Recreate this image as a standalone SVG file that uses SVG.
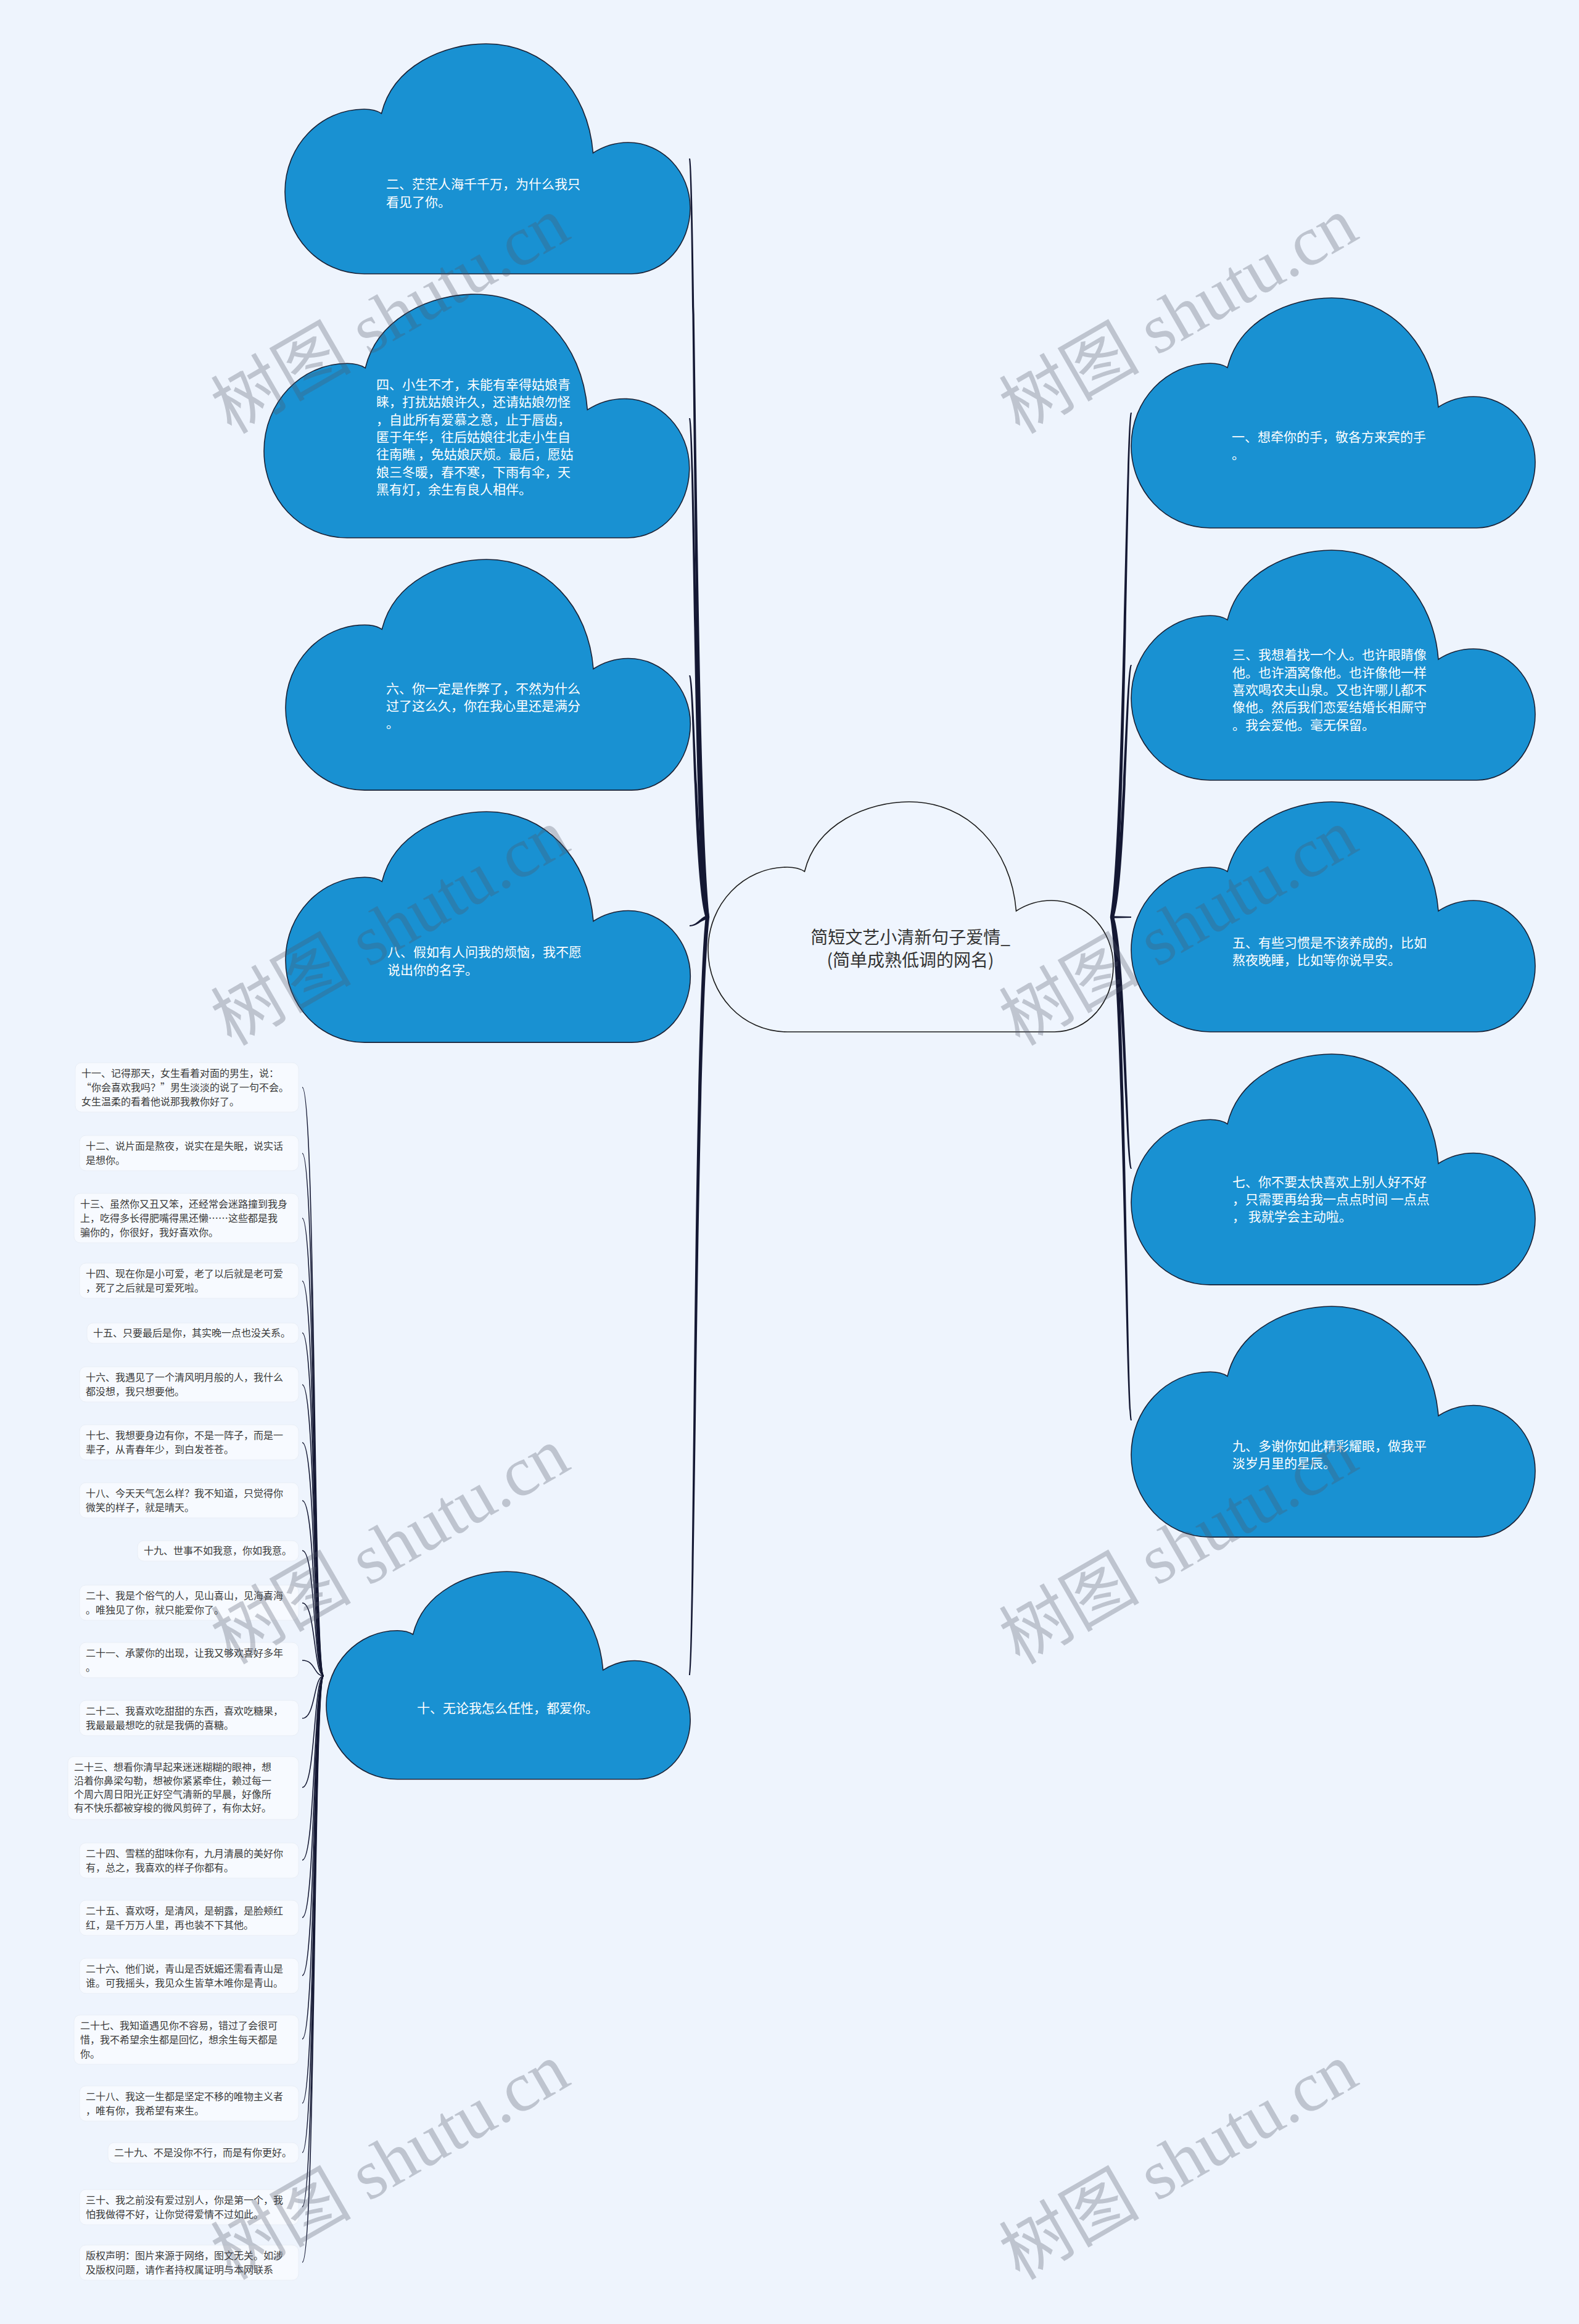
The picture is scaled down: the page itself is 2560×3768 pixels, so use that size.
<svg xmlns="http://www.w3.org/2000/svg" xmlns:xlink="http://www.w3.org/1999/xlink" width="2560" height="3768" viewBox="0 0 2560 3768">
<style>
.bg{fill:#eef4fd}
.cloud{fill:#1991d2;stroke:#1b2236;stroke-width:1.6}
.center{fill:#eff5fe;stroke:#1b1b1b;stroke-width:1.6}
.ct{font-family:"Noto Sans CJK SC","Noto Sans",sans-serif;font-size:21px;fill:#ffffff}
.mt{font-family:"Noto Sans CJK SC","Noto Sans",sans-serif;font-size:28px;fill:#333333;text-anchor:middle}
.st{font-family:"Noto Sans CJK SC","Noto Sans",sans-serif;font-size:16px;fill:#3a3a3a}
.box{fill:#f7faff;stroke:#e9eef6;stroke-width:1}
.conn{fill:#141833;stroke:none}
.sconn{fill:none;stroke:#141833;stroke-width:1.6}
.wm{font-family:"Liberation Serif","Noto Sans CJK SC",serif;font-size:114px;fill:#4f5766;fill-opacity:0.3;text-anchor:middle}
</style>
<defs>
<path id="cloudShape" vector-effect="non-scaling-stroke" d="M128,373 C55,373 0,312 0,240 C0,166 57,106 128,106 C140,106 150,109 156,113 C175,35 258,0 325,0 C420,0 490,75 498,177 C515,166 535,160 555,160 C610,160 655,208 655,266 C655,325 613,373 560,373 Z"/>
</defs>
<rect class="bg" x="0" y="0" width="2560" height="3768"/>

<g id="connectors">
<path class="conn" d="M1143.8,1487 C1124.4,1298 1124.4,300 1117,257 L1119,257 C1127.6,300 1129.6,1298 1150.2,1487 Z"/>
<path class="conn" d="M1143.8,1487 C1124.4,1365 1124.4,706 1117,678 L1119,678 C1127.6,706 1129.6,1365 1150.2,1487 Z"/>
<path class="conn" d="M1143.8,1487 C1124.4,1424 1124.4,1109 1117,1095 L1119,1095 C1127.6,1109 1129.6,1424 1150.2,1487 Z"/>
<path class="conn" d="M1147,1484 C1135,1487 1130,1500 1118,1500 L1118,1502 C1130,1502 1135,1493 1147,1490 Z"/>
<path class="conn" d="M1143.8,1487 C1124.4,1671 1124.4,2673 1117,2716 L1119,2716 C1127.6,2673 1129.6,1671 1150.2,1487 Z"/>
<path class="conn" d="M1799.8,1487 C1820.4,1364 1824.4,698 1833,669 L1835,669 C1827.6,698 1825.6,1364 1806.2,1487 Z"/>
<path class="conn" d="M1799.8,1487 C1820.4,1426 1824.4,1092 1833,1078 L1835,1078 C1827.6,1092 1825.6,1426 1806.2,1487 Z"/>
<path class="conn" d="M1803,1485.2 L1834,1486 L1834,1488 L1803,1488.8 Z"/>
<path class="conn" d="M1799.8,1487 C1820.4,1548 1824.4,1881 1833,1895 L1835,1895 C1827.6,1881 1825.6,1548 1806.2,1487 Z"/>
<path class="conn" d="M1799.8,1487 C1820.4,1609 1824.4,2274 1833,2303 L1835,2303 C1827.6,2274 1825.6,1609 1806.2,1487 Z"/>
<path class="sconn" d="M525,2717 C508,2717 512,1763 490,1763"/>
<path class="sconn" d="M525,2717 C508,2717 512,1870 490,1870"/>
<path class="sconn" d="M525,2717 C508,2717 512,1975 490,1975"/>
<path class="sconn" d="M525,2717 C508,2717 512,2077 490,2077"/>
<path class="sconn" d="M525,2717 C508,2717 512,2161 490,2161"/>
<path class="sconn" d="M525,2717 C508,2717 512,2245 490,2245"/>
<path class="sconn" d="M525,2717 C508,2717 512,2339 490,2339"/>
<path class="sconn" d="M525,2717 C508,2717 512,2433 490,2433"/>
<path class="sconn" d="M525,2717 C508,2717 512,2514 490,2514"/>
<path class="sconn" d="M525,2717 C508,2717 512,2599 490,2599"/>
<path class="sconn" d="M525,2717 C508,2717 512,2692 490,2692"/>
<path class="sconn" d="M525,2717 C508,2717 512,2786 490,2786"/>
<path class="sconn" d="M525,2717 C508,2717 512,2898 490,2898"/>
<path class="sconn" d="M525,2717 C508,2717 512,3016 490,3016"/>
<path class="sconn" d="M525,2717 C508,2717 512,3109 490,3109"/>
<path class="sconn" d="M525,2717 C508,2717 512,3203 490,3203"/>
<path class="sconn" d="M525,2717 C508,2717 512,3306 490,3306"/>
<path class="sconn" d="M525,2717 C508,2717 512,3410 490,3410"/>
<path class="sconn" d="M525,2717 C508,2717 512,3490 490,3490"/>
<path class="sconn" d="M525,2717 C508,2717 512,3578 490,3578"/>
<path class="sconn" d="M525,2717 C508,2717 512,3668 490,3668"/>
</g>

<g id="node-center">
<use xlink:href="#cloudShape" class="center" transform="translate(1148,1300) scale(1.003,1)"/>
<text class="mt" x="1476" y="1530">简短文艺小清新句子爱情_</text>
<text class="mt" x="1476" y="1567">(简单成熟低调的网名)</text>
</g>

<g id="node-2">
<use xlink:href="#cloudShape" class="cloud" transform="translate(462,71) scale(1.003,1)"/>
<text class="ct" x="626" y="306">二、茫茫人海千千万，为什么我只</text>
<text class="ct" x="626" y="335">看见了你。</text>
</g>

<g id="node-4">
<use xlink:href="#cloudShape" class="cloud" transform="translate(428,477) scale(1.053,1.059)"/>
<text class="ct" x="610" y="631">四、小生不才，未能有幸得姑娘青</text>
<text class="ct" x="610" y="659">睐，打扰姑娘许久，还请姑娘勿怪</text>
<text class="ct" x="610" y="688">，自此所有爱慕之意，止于唇齿，</text>
<text class="ct" x="610" y="716">匿于年华，往后姑娘往北走小生自</text>
<text class="ct" x="610" y="744" xml:space="preserve">往南瞧 ，免姑娘厌烦。最后，愿姑</text>
<text class="ct" x="610" y="773">娘三冬暖，春不寒，下雨有伞，天</text>
<text class="ct" x="610" y="801">黑有灯，余生有良人相伴。</text>
</g>

<g id="node-6">
<use xlink:href="#cloudShape" class="cloud" transform="translate(463,907) scale(1.002,1.003)"/>
<text class="ct" x="626" y="1124">六、你一定是作弊了，不然为什么</text>
<text class="ct" x="626" y="1152">过了这么久，你在我心里还是满分</text>
<text class="ct" x="626" y="1180">。</text>
</g>

<g id="node-8">
<use xlink:href="#cloudShape" class="cloud" transform="translate(463,1316) scale(1.002,1.003)"/>
<text class="ct" x="628" y="1551">八、假如有人问我的烦恼，我不愿</text>
<text class="ct" x="628" y="1580">说出你的名字。</text>
</g>

<g id="node-10">
<use xlink:href="#cloudShape" class="cloud" transform="translate(529,2548) scale(0.901,0.903)"/>
<text class="ct" x="676" y="2777">十、无论我怎么任性，都爱你。</text>
</g>

<g id="node-1">
<use xlink:href="#cloudShape" class="cloud" transform="translate(1834,483)"/>
<text class="ct" x="1997" y="716">一、想牵你的手，敬各方来宾的手</text>
<text class="ct" x="1997" y="744">。</text>
</g>

<g id="node-3">
<use xlink:href="#cloudShape" class="cloud" transform="translate(1834,892)"/>
<text class="ct" x="1998" y="1069">三、我想着找一个人。也许眼睛像</text>
<text class="ct" x="1998" y="1098">他。也许酒窝像他。也许像他一样</text>
<text class="ct" x="1998" y="1126">喜欢喝农夫山泉。又也许哪儿都不</text>
<text class="ct" x="1998" y="1154">像他。然后我们恋爱结婚长相厮守</text>
<text class="ct" x="1998" y="1183">。我会爱他。毫无保留。</text>
</g>

<g id="node-5">
<use xlink:href="#cloudShape" class="cloud" transform="translate(1834,1300)"/>
<text class="ct" x="1998" y="1536">五、有些习惯是不该养成的，比如</text>
<text class="ct" x="1998" y="1564">熬夜晚睡，比如等你说早安。</text>
</g>

<g id="node-7">
<use xlink:href="#cloudShape" class="cloud" transform="translate(1834,1709) scale(1,1.003)"/>
<text class="ct" x="1998" y="1924">七、你不要太快喜欢上别人好不好</text>
<text class="ct" x="1998" y="1952" xml:space="preserve">，只需要再给我一点点时间 一点点</text>
<text class="ct" x="1998" y="1980" xml:space="preserve">， 我就学会主动啦。</text>
</g>

<g id="node-9">
<use xlink:href="#cloudShape" class="cloud" transform="translate(1834,2118) scale(1,1.003)"/>
<text class="ct" x="1998" y="2352">九、多谢你如此精彩耀眼，做我平</text>
<text class="ct" x="1998" y="2380">淡岁月里的星辰。</text>
</g>

<g id="node-11">
<rect class="box" x="122" y="1723" width="362" height="80" rx="10"/>
<text class="st" x="132" y="1746">十一、记得那天，女生看着对面的男生，说：</text>
<text class="st" x="132" y="1769">“你会喜欢我吗？”男生淡淡的说了一句不会。</text>
<text class="st" x="132" y="1792">女生温柔的看着他说那我教你好了。</text>
</g>
<g id="node-12">
<rect class="box" x="129" y="1841" width="355" height="57" rx="10"/>
<text class="st" x="139" y="1864">十二、说片面是熬夜，说实在是失眠，说实话</text>
<text class="st" x="139" y="1887">是想你。</text>
</g>
<g id="node-13">
<rect class="box" x="120" y="1935" width="364" height="80" rx="10"/>
<text class="st" x="130" y="1958">十三、虽然你又丑又笨，还经常会迷路撞到我身</text>
<text class="st" x="130" y="1981">上，吃得多长得肥嘴得黑还懒……这些都是我</text>
<text class="st" x="130" y="2004">骗你的，你很好，我好喜欢你。</text>
</g>
<g id="node-14">
<rect class="box" x="129" y="2048" width="355" height="57" rx="10"/>
<text class="st" x="139" y="2071">十四、现在你是小可爱，老了以后就是老可爱</text>
<text class="st" x="139" y="2094">，死了之后就是可爱死啦。</text>
</g>
<g id="node-15">
<rect class="box" x="141" y="2145" width="343" height="33" rx="10"/>
<text class="st" x="151" y="2167">十五、只要最后是你，其实晚一点也没关系。</text>
</g>
<g id="node-16">
<rect class="box" x="129" y="2216" width="355" height="57" rx="10"/>
<text class="st" x="139" y="2239">十六、我遇见了一个清风明月般的人，我什么</text>
<text class="st" x="139" y="2262">都没想，我只想要他。</text>
</g>
<g id="node-17">
<rect class="box" x="129" y="2310" width="355" height="57" rx="10"/>
<text class="st" x="139" y="2333">十七、我想要身边有你，不是一阵子，而是一</text>
<text class="st" x="139" y="2356">辈子，从青春年少，到白发苍苍。</text>
</g>
<g id="node-18">
<rect class="box" x="129" y="2404" width="355" height="57" rx="10"/>
<text class="st" x="139" y="2427">十八、今天天气怎么样？我不知道，只觉得你</text>
<text class="st" x="139" y="2450">微笑的样子，就是晴天。</text>
</g>
<g id="node-19">
<rect class="box" x="223" y="2498" width="261" height="33" rx="10"/>
<text class="st" x="233" y="2520">十九、世事不如我意，你如我意。</text>
</g>
<g id="node-20">
<rect class="box" x="129" y="2570" width="355" height="57" rx="10"/>
<text class="st" x="139" y="2593">二十、我是个俗气的人，见山喜山，见海喜海</text>
<text class="st" x="139" y="2616">。唯独见了你，就只能爱你了。</text>
</g>
<g id="node-21">
<rect class="box" x="129" y="2663" width="355" height="57" rx="10"/>
<text class="st" x="139" y="2686">二十一、承蒙你的出现，让我又够欢喜好多年</text>
<text class="st" x="139" y="2709">。</text>
</g>
<g id="node-22">
<rect class="box" x="129" y="2757" width="355" height="57" rx="10"/>
<text class="st" x="139" y="2780">二十二、我喜欢吃甜甜的东西，喜欢吃糖果，</text>
<text class="st" x="139" y="2803">我最最最想吃的就是我俩的喜糖。</text>
</g>
<g id="node-23">
<rect class="box" x="110" y="2848" width="374" height="102" rx="10"/>
<text class="st" x="120" y="2871">二十三、想看你清早起来迷迷糊糊的眼神，想</text>
<text class="st" x="120" y="2893">沿着你鼻梁勾勒，想被你紧紧牵住，赖过每一</text>
<text class="st" x="120" y="2915">个周六周日阳光正好空气清新的早晨，好像所</text>
<text class="st" x="120" y="2937">有不快乐都被穿梭的微风剪碎了，有你太好。</text>
</g>
<g id="node-24">
<rect class="box" x="129" y="2988" width="355" height="57" rx="10"/>
<text class="st" x="139" y="3011">二十四、雪糕的甜味你有，九月清晨的美好你</text>
<text class="st" x="139" y="3034">有，总之，我喜欢的样子你都有。</text>
</g>
<g id="node-25">
<rect class="box" x="129" y="3081" width="355" height="57" rx="10"/>
<text class="st" x="139" y="3104">二十五、喜欢呀，是清风，是朝露，是脸颊红</text>
<text class="st" x="139" y="3127">红，是千万万人里，再也装不下其他。</text>
</g>
<g id="node-26">
<rect class="box" x="129" y="3175" width="355" height="57" rx="10"/>
<text class="st" x="139" y="3198">二十六、他们说，青山是否妩媚还需看青山是</text>
<text class="st" x="139" y="3221">谁。可我摇头，我见众生皆草木唯你是青山。</text>
</g>
<g id="node-27">
<rect class="box" x="120" y="3267" width="364" height="80" rx="10"/>
<text class="st" x="130" y="3290">二十七、我知道遇见你不容易，错过了会很可</text>
<text class="st" x="130" y="3313">惜，我不希望余生都是回忆，想余生每天都是</text>
<text class="st" x="130" y="3336">你。</text>
</g>
<g id="node-28">
<rect class="box" x="129" y="3382" width="355" height="57" rx="10"/>
<text class="st" x="139" y="3405">二十八、我这一生都是坚定不移的唯物主义者</text>
<text class="st" x="139" y="3428">，唯有你，我希望有来生。</text>
</g>
<g id="node-29">
<rect class="box" x="175" y="3474" width="309" height="33" rx="10"/>
<text class="st" x="185" y="3496">二十九、不是没你不行，而是有你更好。</text>
</g>
<g id="node-30">
<rect class="box" x="129" y="3550" width="355" height="57" rx="10"/>
<text class="st" x="139" y="3573">三十、我之前没有爱过别人，你是第一个，我</text>
<text class="st" x="139" y="3596">怕我做得不好，让你觉得爱情不过如此。</text>
</g>
<g id="node-31">
<rect class="box" x="129" y="3640" width="355" height="57" rx="10"/>
<text class="st" x="139" y="3663">版权声明：图片来源于网络，图文无关。如涉</text>
<text class="st" x="139" y="3686">及版权问题，请作者持权属证明与本网联系</text>
</g>

<g id="watermarks">
<text class="wm" transform="rotate(-30 652 545)" x="652" y="545">树图 shutu.cn</text>
<text class="wm" transform="rotate(-30 1930 545)" x="1930" y="545">树图 shutu.cn</text>
<text class="wm" transform="rotate(-30 652 1537)" x="652" y="1537">树图 shutu.cn</text>
<text class="wm" transform="rotate(-30 1930 1537)" x="1930" y="1537">树图 shutu.cn</text>
<text class="wm" transform="rotate(-30 652 2540)" x="652" y="2540">树图 shutu.cn</text>
<text class="wm" transform="rotate(-30 1930 2540)" x="1930" y="2540">树图 shutu.cn</text>
<text class="wm" transform="rotate(-30 652 3538)" x="652" y="3538">树图 shutu.cn</text>
<text class="wm" transform="rotate(-30 1930 3538)" x="1930" y="3538">树图 shutu.cn</text>
</g>
</svg>
